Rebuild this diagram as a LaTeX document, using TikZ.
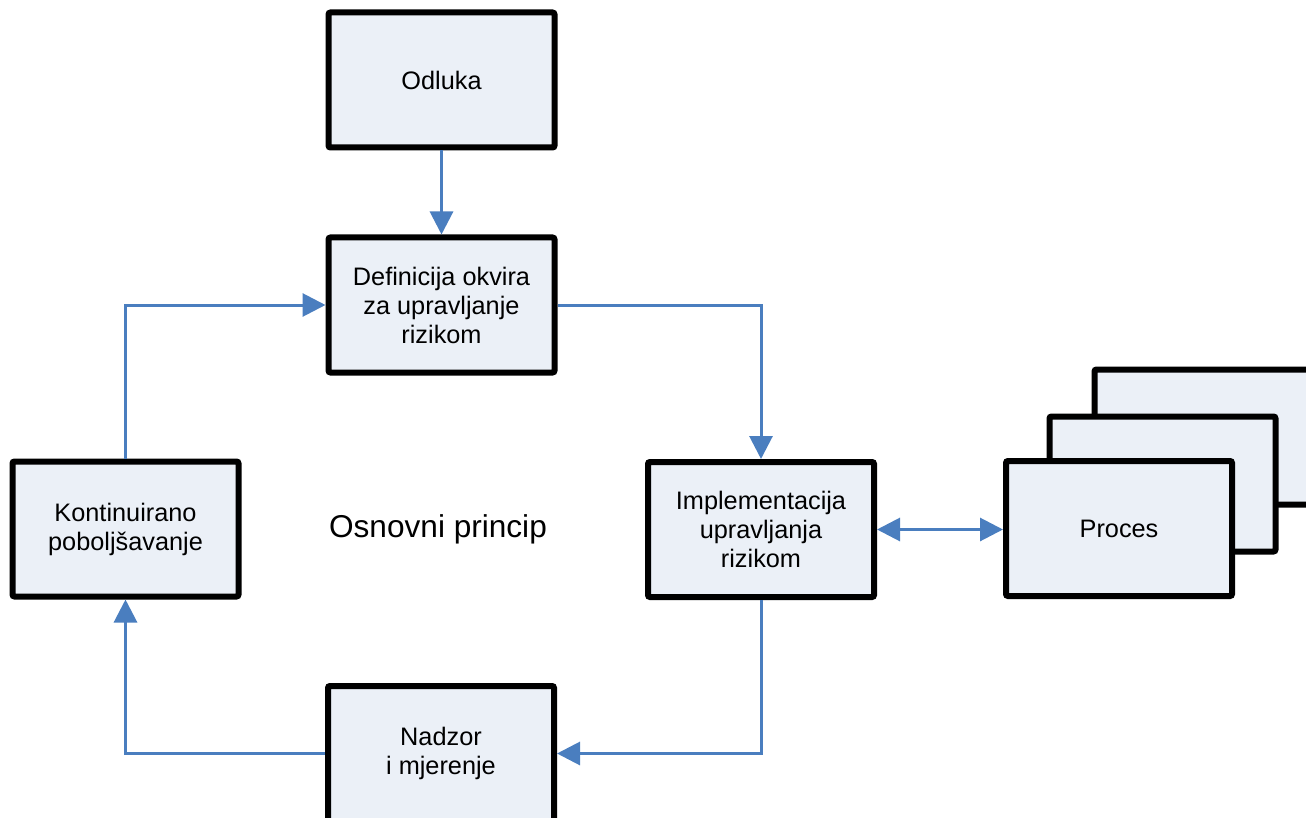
\documentclass[tikz,border=0pt]{standalone}
\usepackage{fontspec}
\setmainfont{Liberation Sans}
\usetikzlibrary{arrows.meta}
\definecolor{boxfill}{HTML}{EBF0F7}
\definecolor{arrowblue}{HTML}{4A7EBF}
\tikzset{
  box/.style={draw=black, line width=6pt, fill=boxfill, rounded corners=2pt,
    minimum width=226pt, minimum height=135pt, inner sep=0pt, align=center,
    font=\fontsize{25.3}{29}\selectfont},
  conn/.style={draw=arrowblue, line width=3pt, -{Triangle[length=23pt,width=23pt]}},
  biconn/.style={draw=arrowblue, line width=3pt, {Triangle[length=23pt,width=23pt]}-{Triangle[length=23pt,width=23pt]}},
}
\begin{document}
\begin{tikzpicture}[x=1pt,y=-1pt]
\useasboundingbox (0,0) rectangle (1306,818);
\clip (0,0) rectangle (1306,818);
\node[box] (odl) at (441.5,80) {Odluka};
\node[box] (def) at (441.5,305) {Definicija okvira\\za upravljanje\\rizikom};
\node[box] (imp) at (761,529.5) {Implementacija\\upravljanja\\rizikom};
\node[box] (kon) at (125.5,529) {Kontinuirano\\poboljšavanje};
\node[box] (nad) at (441,753.5) {Nadzor\\i mjerenje};
\node[box] (p3) at (1207.5,437) {};
\node[box] (p2) at (1162.5,484) {};
\node[box] (proc) at (1119,528.5) {Proces};
\node[font=\fontsize{31.6}{36}\selectfont] (osn) at (438,529) {Osnovni princip};
\draw[conn] (odl.south) -- (def.north);
\draw[conn] (def.east) -| (imp.north);
\draw[biconn] (imp.east) -- (imp.east -| proc.west);
\draw[conn] (imp.south) |- (nad.east);
\draw[conn] (nad.west) -| (kon.south);
\draw[conn] (kon.north) |- (def.west);
\end{tikzpicture}
\end{document}
